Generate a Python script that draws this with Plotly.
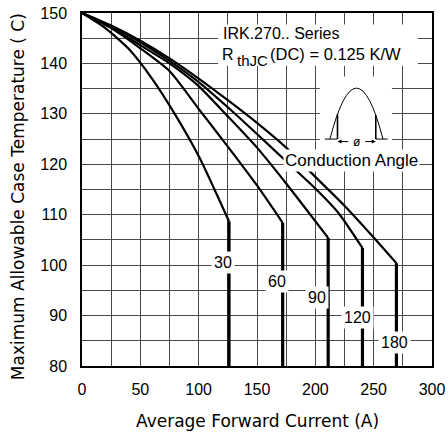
import plotly.graph_objects as go

# ---- data ----
angles = ["30", "60", "90", "120", "180"]

current_30 = [0, 20, 40, 60, 80, 101, 113, 126]
temp_30 = [150, 147, 142.9, 137, 129.8, 121.2, 115.3, 108.7]

current_60 = [0, 25, 50, 75, 100, 125, 150, 172]
temp_60 = [150, 147, 143, 138.5, 131, 123.5, 115.8, 108.4]

current_90 = [0, 25, 50, 75, 100, 125, 150, 175, 211]
temp_90 = [150, 147.2, 143.6, 140, 135.5, 129.5, 123.3, 116.2, 105.4]

current_120 = [0, 25, 50, 75, 100, 125, 150, 175, 200, 220, 240.4]
temp_120 = [150, 147.4, 144.2, 140.5, 136.3, 131.3, 126, 120.6, 115.2, 110.3, 103.4]

current_180 = [0, 25, 50, 75, 100, 125, 150, 175, 200, 225, 250, 269.5]
temp_180 = [150, 147.5, 144.5, 141, 137, 132.7, 128.2, 123.3, 117.5, 111.8, 105.5, 100.4]

currents = [current_30, current_60, current_90, current_120, current_180]
temps = [temp_30, temp_60, temp_90, temp_120, temp_180]

# label positions for the conduction-angle tags
label_x = [121.2, 166.9, 201.1, 236.0, 268.1]
label_y = [100.6, 96.8, 93.5, 89.7, 84.7]

x_range = [0, 300]
y_range = [80, 150]
x_ticks = [0, 50, 100, 150, 200, 250, 300]
y_ticks = [80, 90, 100, 110, 120, 130, 140, 150]

FONT = "Liberation Sans, Arial, sans-serif"
TFONT = "DejaVu Sans, sans-serif"

fig = go.Figure()

for name, xs, ys in zip(angles, currents, temps):
    fig.add_trace(go.Scatter(
        x=xs, y=ys, mode="lines", name=name,
        line=dict(color="black", width=2.2, shape="spline", smoothing=0.6),
        showlegend=False, hoverinfo="skip"))
    # vertical limit at max current
    fig.add_trace(go.Scatter(
        x=[xs[-1], xs[-1]], y=[ys[-1], y_range[0]], mode="lines",
        line=dict(color="black", width=3.2),
        showlegend=False, hoverinfo="skip"))

annotations = []
for name, lx, ly in zip(angles, label_x, label_y):
    annotations.append(dict(x=lx, y=ly, text=name, showarrow=False,
                            font=dict(family=FONT, size=16, color="black"),
                            bgcolor="white", borderpad=2))

# title block
annotations += [
    dict(x=118.9, y=146.0, text="IRK.270.. Series", xanchor="left", showarrow=False,
         font=dict(family=FONT, size=16, color="black")),
    dict(x=118.3, y=141.8, text="R", xanchor="left", showarrow=False,
         font=dict(family=FONT, size=16, color="black")),
    dict(x=131.5, y=140.5, text="thJC", xanchor="left", showarrow=False,
         font=dict(family=FONT, size=15, color="black")),
    dict(x=159.7, y=141.9, text="(DC) = 0.125 K/W", xanchor="left", showarrow=False,
         font=dict(family=FONT, size=16.5, color="black")),
    dict(x=231.3, y=120.7, text="Conduction Angle", showarrow=False,
         font=dict(family=FONT, size=17, color="black"), bgcolor="white", borderpad=1),
    dict(x=235.4, y=124.5, text="ø", showarrow=False,
         font=dict(family=FONT, size=12, color="black")),
    dict(x=219.0, y=124.5, ax=229.5, ay=124.5, axref="x", ayref="y", text="",
         showarrow=True, arrowhead=2, arrowsize=0.8, arrowwidth=1, arrowcolor="black"),
    dict(x=251.8, y=124.5, ax=241.5, ay=124.5, axref="x", ayref="y", text="",
         showarrow=True, arrowhead=2, arrowsize=0.8, arrowwidth=1, arrowcolor="black"),
    # axis titles
    dict(x=0.5, y=-0.157, xref="paper", yref="paper", text="Average Forward Current (A)",
         xanchor="center", yanchor="middle",
         showarrow=False, font=dict(family=TFONT, size=17, color="black")),
    dict(x=-0.1845, y=0.4796, xref="paper", yref="paper",
         xanchor="center", yanchor="middle",
         text="Maximum Allowable Case Temperature ( C)", textangle=-90,
         showarrow=False, font=dict(family=TFONT, size=17, color="black")),
]

shapes = [
    # white panel behind the title text
    dict(type="rect", x0=116.6, x1=287.8, y0=139.55, y1=147.7, layer="between",
         fillcolor="white", line=dict(width=0)),
    # white panel behind the waveform icon
    dict(type="rect", x0=203.8, x1=265.7, y0=122.3, y1=137.4, layer="between",
         fillcolor="white", line=dict(width=0)),
    # waveform arch
    dict(type="path", path="M 212.5,125 Q 235.25,145.2 258,125", layer="above",
         line=dict(color="black", width=1)),
    dict(type="line", x0=219.0, x1=219.0, y0=125, y1=129.95, layer="above",
         line=dict(color="black", width=1.6)),
    dict(type="line", x0=251.8, x1=251.8, y0=125, y1=129.8, layer="above",
         line=dict(color="black", width=1.6)),
    dict(type="line", x0=208.1, x1=219.0, y0=125, y1=125, layer="above",
         line=dict(color="black", width=1)),
    dict(type="line", x0=251.8, x1=262.1, y0=125, y1=125, layer="above",
         line=dict(color="black", width=1)),
]

GRID = "#4a4a4a"
fig.update_layout(
    width=448, height=437,
    margin=dict(l=82, r=16, t=13, b=71, autoexpand=False),
    paper_bgcolor="white", plot_bgcolor="white",
    annotations=annotations, shapes=shapes,
    xaxis=dict(range=x_range, tickvals=x_ticks, showgrid=True, gridcolor=GRID, gridwidth=1,
               minor=dict(dtick=25, showgrid=True, gridcolor=GRID, gridwidth=1),
               showline=True, mirror=True, linecolor="black", linewidth=1.5,
               ticks="", ticklabelstandoff=8, zeroline=False, automargin=False,
               tickfont=dict(family=FONT, size=16, color="black")),
    yaxis=dict(range=y_range, tickvals=y_ticks, showgrid=True, gridcolor=GRID, gridwidth=1,
               minor=dict(dtick=5, showgrid=True, gridcolor=GRID, gridwidth=1),
               showline=True, mirror=True, linecolor="black", linewidth=1.5,
               ticks="", ticklabelstandoff=10, zeroline=False, automargin=False,
               tickfont=dict(family=FONT, size=16, color="black")),
)

fig.write_html("out.html", config={"displayModeBar": False},
               post_script="document.body.style.margin='0px';document.body.style.padding='0px';")
